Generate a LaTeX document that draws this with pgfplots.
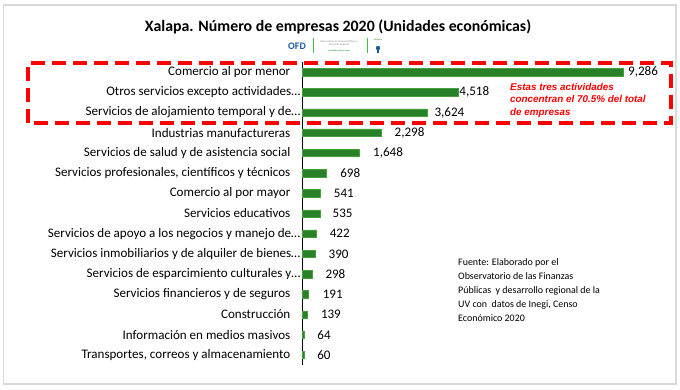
\documentclass[border=0pt]{standalone}
\usepackage{pgfplots}
\pgfplotsset{compat=1.18}
\usepackage{pgfplotstable}
\usepackage{fontspec}
\setmainfont{Carlito}
\newfontfamily\arialfont{Liberation Sans}
\definecolor{bargreen}{RGB}{40,128,40}
\definecolor{baredge}{RGB}{70,160,60}
\definecolor{ofdblue}{RGB}{30,90,160}
\pgfplotstableread{
idx val off
0 9286 4
1 4518 0
2 3624 6
3 2298 12
4 1648 13
5 698 13
6 541 12
7 535 11
8 422 12
9 390 12
10 298 12
11 191 13
12 139 13
13 64 12
14 60 12
}\datatable
\newcommand{\pad}{\hspace*{10bp}}
\begin{document}
\begin{tikzpicture}[x=1bp,y=1bp]
\path[use as bounding box] (0,0) rectangle (680,389);
\draw[gray!30, line width=1.2bp] (3.5,5) rectangle (676,384);
% title
\node[font=\fontsize{15.9}{18}\selectfont\bfseries] at (338,362) {Xalapa. Número de empresas 2020 (Unidades económicas)};
% logo approximation
\node[font=\fontsize{10}{12}\selectfont\bfseries, text=ofdblue, anchor=west, inner sep=0] at (288,343) {OFD};
\draw[green!50!gray, line width=0.4bp] (313,336) -- (313,351);
\node[font=\fontsize{2.6}{3.2}\selectfont, text=gray, align=center, inner sep=0] at (339,346) {Observatorio de Finanzas Públicas y\\Desarrollo Regional};
\node[font=\fontsize{2.2}{3}\selectfont, text=green!50!black, inner sep=0] at (339,338.5) {Universidad Veracruzana};
\draw[green!50!gray, line width=0.4bp] (367,336) -- (367,351);
\node[font=\fontsize{2.2}{3}\selectfont, text=green!50!black, inner sep=0] at (378,349) {Gobierno};
\fill[ofdblue] (378,341) circle (2.2);
\fill[ofdblue] (377.3,336) rectangle (378.7,341);
\begin{axis}[
  at={(302bp,24bp)}, anchor=south west,
  scale only axis, width=321bp, height=303bp,
  xbar, bar width=7.5bp,
  xmin=0, xmax=9286,
  ymin=-0.5, ymax=14.5, y dir=reverse,
  axis x line=none,
  axis y line*=left,
  y axis line style={black, line width=1bp, -},
  ytick={0,1,2,3,4,5,6,7,8,9,10,11,12,13,14},
  yticklabels={{Comercio al por menor\pad}, {Otros servicios excepto actividades…}, {Servicios de alojamiento temporal y de…}, {Industrias manufactureras\pad}, {Servicios de salud y de asistencia social\pad}, {Servicios profesionales, científicos y técnicos\pad}, {Comercio al por mayor\pad}, {Servicios educativos\pad}, {Servicios de apoyo a los negocios y manejo de…}, {Servicios inmobiliarios y de alquiler de bienes…}, {Servicios de esparcimiento culturales y…}, {Servicios financieros y de seguros\pad}, {Construcción\pad}, {Información en medios masivos\pad}, {Transportes, correos y almacenamiento\pad}},
  yticklabel style={font=\fontsize{13.1}{15}\selectfont, xshift=0bp, inner xsep=1.5bp},
  major tick length=0pt,
  clip=false,
  nodes near coords,
  point meta=explicit,
  visualization depends on={\thisrow{off} \as \off},
  every node near coord/.append style={font=\fontsize{13.1}{15}\selectfont, anchor=west, xshift=\off pt, inner sep=1bp, /pgf/number format/.cd, 1000 sep={,}, assume math mode=true},
]
\addplot[fill=bargreen, draw=baredge, line width=0.5bp] table[x=val, y=idx, meta=val] {\datatable};
\end{axis}
% red dashed box
\draw[red, line width=3.8bp, dash pattern=on 14bp off 7bp] (28,266) rectangle (671,326);
\node[font=\arialfont\fontsize{9.9}{12.5}\selectfont\bfseries\itshape, text=red, align=left, anchor=north west, inner sep=0] at (510,306) {Estas tres actividades\\concentran el 70.5\% del total\\de empresas};
% source
\node[font=\fontsize{10}{14.2}\selectfont, align=left, anchor=north west, inner sep=0] at (458,131) {Fuente: Elaborado por el\\Observatorio de las Finanzas\\Públicas \ y desarrollo regional de la\\UV con \ datos de Inegi, Censo\\Económico 2020};
\end{tikzpicture}
\end{document}
